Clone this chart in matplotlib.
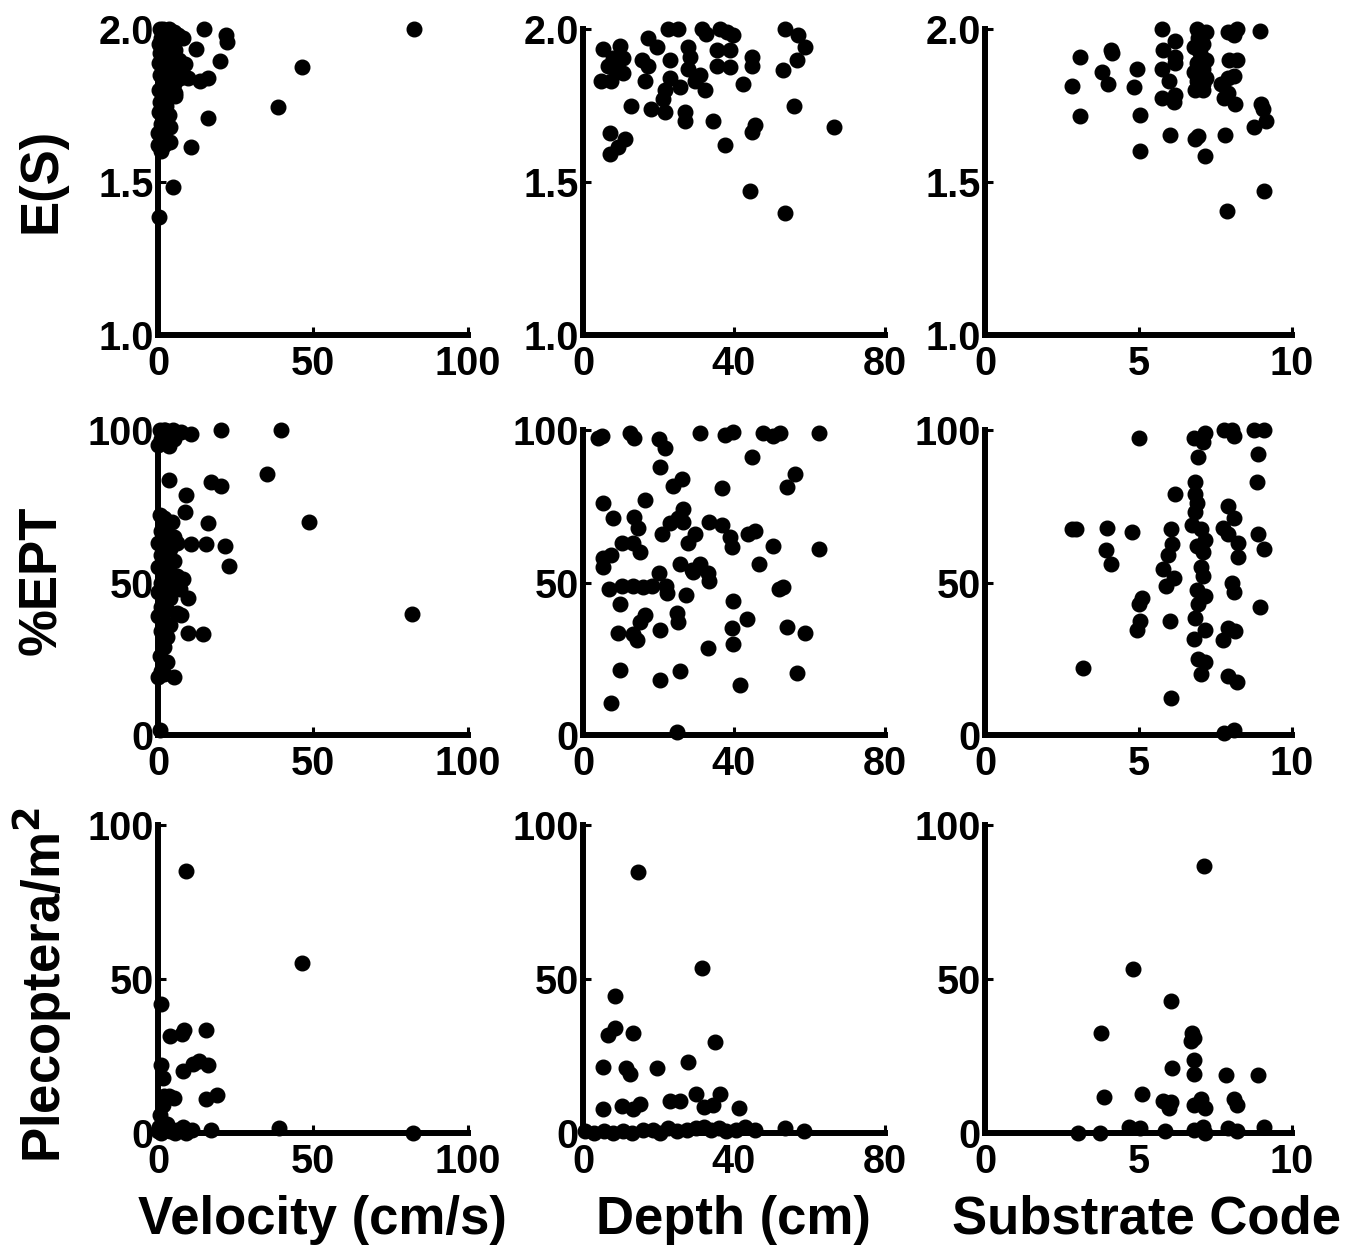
import matplotlib
matplotlib.use("Agg")
import matplotlib.pyplot as plt

plt.rcParams['font.family'] = ['Liberation Sans', 'DejaVu Sans']
plt.rcParams['font.weight'] = 'bold'

# ---- data ----
# Row 1: E(S)
vel_es_x = [82.7, 46.5, 38.7, 14.8, 21.8, 22.2, 20.0, 12.4, 8.6, 13.5, 9.7, 16.2, 16.0, 10.6,
            4.9, 0.2, 3.8, 3.8, 1.0, 0.0, 5.4,
            0.5, 1.5, 2.5, 3.5, 5.0, 6.5, 8.0, 1.0, 0.3, 2.0, 3.0, 4.5, 0.8, 2.2, 3.5, 5.5,
            0.2, 1.5, 3.0, 4.0, 6.0, 0.5, 2.0, 3.5, 5.0, 7.0, 0.3, 1.5, 3.0, 5.5, 0.8, 2.5,
            0.2, 1.8, 3.5, 1.0, 2.5, 0.5, 1.5, 0.0, 2.0, 6.8, 7.5]
vel_es_y = [2.00, 1.877, 1.745, 2.00, 1.98, 1.956, 1.897, 1.935, 1.886, 1.83, 1.84, 1.84, 1.71, 1.616,
            1.484, 1.384, 1.68, 1.63, 1.60, 1.66, 1.79,
            2.00, 2.00, 1.99, 2.00, 1.99, 1.98, 1.97, 1.97, 1.95, 1.94, 1.96, 1.95, 1.92, 1.91, 1.92, 1.93,
            1.89, 1.88, 1.88, 1.86, 1.87, 1.85, 1.84, 1.83, 1.82, 1.84, 1.80, 1.79, 1.78, 1.78, 1.76, 1.75,
            1.73, 1.72, 1.72, 1.69, 1.68, 1.66, 1.64, 1.62, 1.62, 1.90, 1.86]

dep_es_x = [5.3, 4.9, 7.5, 9.7, 8.0, 10.6, 10.6, 6.6, 8.8, 7.1, 11.0, 9.3, 7.1, 12.8,
            17.3, 19.5, 15.5, 17.3, 16.4, 18.1, 21.7, 21.2, 21.7, 23.0, 22.6, 25.2, 23.0,
            25.7, 27.9, 28.3, 27.9, 31.0, 29.6, 32.3, 27.0, 27.0, 31.4, 32.7, 34.5, 36.3,
            38.1, 39.8, 35.4, 35.4, 38.9, 38.9, 37.6, 42.5, 44.7, 44.7, 45.6, 44.7, 44.2,
            53.5, 57.0, 58.8, 56.6, 53.1, 55.8, 66.4, 53.5]
dep_es_y = [1.934, 1.83, 1.83, 1.945, 1.905, 1.905, 1.855, 1.88, 1.87, 1.66, 1.64, 1.615, 1.59, 1.75,
            1.97, 1.94, 1.90, 1.88, 1.83, 1.74, 1.73, 1.77, 1.80, 1.84, 2.00, 2.00, 1.90,
            1.81, 1.94, 1.91, 1.87, 1.85, 1.83, 1.80, 1.73, 1.70, 2.00, 1.985, 1.70, 2.00,
            1.99, 1.98, 1.93, 1.88, 1.93, 1.875, 1.62, 1.82, 1.91, 1.88, 1.685, 1.665, 1.472,
            2.00, 1.98, 1.94, 1.90, 1.865, 1.75, 1.68, 1.40]

sub_es_x = [2.83, 3.1, 3.1, 3.8, 4.0, 4.1, 4.15, 4.95, 4.84, 5.05, 5.05,
            5.76, 6.2, 5.8, 6.2, 5.75, 6.0, 6.2, 5.75, 6.15, 6.2, 6.03,
            6.9, 7.2, 6.95, 7.1, 6.8, 7.0, 7.2, 6.9, 7.1, 6.8, 7.0, 7.2, 6.9, 7.1, 7.0, 6.85, 7.1,
            6.85, 6.95, 7.17,
            7.9, 8.2, 8.1, 7.95, 8.2, 7.9, 8.1, 7.7, 7.9, 7.8, 8.15, 7.83, 7.88,
            8.97, 9.0, 9.05, 9.15, 8.75, 9.08]
sub_es_y = [1.814, 1.907, 1.716, 1.86, 1.82, 1.93, 1.92, 1.87, 1.81, 1.72, 1.60,
            2.00, 1.96, 1.93, 1.91, 1.87, 1.83, 1.89, 1.775, 1.76, 1.785, 1.652,
            2.00, 1.99, 1.97, 1.95, 1.94, 1.92, 1.90, 1.89, 1.87, 1.86, 1.85, 1.84, 1.83, 1.82, 1.81, 1.80, 1.80,
            1.64, 1.65, 1.585,
            1.99, 2.00, 1.98, 1.90, 1.90, 1.84, 1.845, 1.82, 1.79, 1.775, 1.755, 1.655, 1.405,
            1.995, 1.755, 1.74, 1.70, 1.68, 1.47]

# Row 2: %EPT
vel_ept_x = [39.6, 20.3, 10.7, 7.5, 4.8, 2.2, 0.0, 3.7, 35.3, 17.1, 20.3, 3.7, 9.1, 8.6, 48.7, 16.0,
             10.7, 15.5, 21.7, 22.8, 8.0, 9.6, 7.5, 81.8, 9.6, 14.4, 5.3, 0.5,
             0.5, 2.0, 3.5, 5.0, 1.0, 0.5, 2.0, 3.0, 4.5, 1.0, 3.0, 5.0, 0.0, 2.0, 4.0, 6.0, 1.0, 3.0,
             5.0, 0.0, 2.0, 4.0, 6.0, 1.0, 3.0, 5.0, 7.0, 0.0, 2.0, 4.0, 1.0, 3.0, 6.0, 0.0, 2.0,
             4.0, 1.0, 3.0, 2.0, 0.5, 3.0, 1.0, 2.0, 0.0]
vel_ept_y = [100, 100, 98.6, 99.5, 100, 100, 95, 94.6, 85.5, 83, 81.5, 83.5, 78.8, 73.2, 70, 69.6,
             62.5, 62.7, 62, 55.4, 51, 44.8, 39.3, 39.7, 33.5, 33.2, 19, 1.6,
             100, 100, 99, 97, 97, 72, 71, 69, 70, 67, 66, 65, 63, 62, 61, 63, 59, 58,
             57, 55, 54, 53, 52, 50, 49, 50, 48, 47, 46, 45, 42, 41, 40, 39, 37,
             36, 34, 32, 29, 26, 24, 21, 20, 19]

dep_ept_x = [4.0, 5.0, 12.4, 13.5, 20.0, 21.7, 31.0, 37.6, 39.8, 47.8, 50.4, 52.2, 62.4, 44.7,
             20.4, 23.9, 26.1, 36.7, 56.2, 54.0, 5.3, 16.4, 8.0, 13.5, 14.6, 20.8, 23.0, 25.2,
             26.5, 26.5, 29.6, 27.9, 33.5, 36.7, 38.9, 39.4, 43.8, 45.6, 50.4, 62.4, 46.5,
             5.3, 7.5, 5.3, 10.2, 13.3, 15.0, 25.7, 28.8, 31.0, 29.2, 33.2, 33.5, 20.0,
             10.2, 13.3, 16.0, 18.2, 7.0, 22.0, 22.3, 27.4, 39.8, 51.8, 53.1, 9.7, 16.4,
             15.0, 13.3, 14.2, 20.4, 24.8, 25.2, 9.3, 39.4, 39.8, 43.4, 54.0, 58.8, 33.2,
             9.7, 20.4, 25.7, 56.6, 41.6, 7.5, 24.8]
dep_ept_y = [97.3, 98.0, 99.0, 97.3, 97.0, 94.0, 99.0, 98.5, 99.5, 99.0, 98.0, 99.0, 99.0, 91.0,
             88.0, 81.5, 84.0, 81.0, 85.5, 81.4, 76.0, 77.0, 71.0, 71.5, 68.0, 66.0, 69.5, 71.0,
             74.0, 70.0, 66.0, 63.0, 70.0, 69.0, 65.0, 61.5, 66.0, 67.0, 62.0, 61.0, 56.0,
             58.0, 59.0, 55.0, 63.0, 63.0, 60.0, 56.0, 54.0, 56.0, 53.5, 53.0, 50.5, 53.0,
             49.0, 49.0, 48.5, 49.0, 48.0, 49.0, 46.5, 46.0, 44.0, 48.0, 48.5, 43.0, 39.5,
             37.0, 33.0, 31.0, 34.4, 40.0, 37.0, 33.3, 35.0, 30.0, 38.0, 35.5, 33.3, 28.4,
             21.3, 18.0, 21.0, 20.4, 16.4, 10.4, 1.0]

sub_ept_x = [5.03, 6.8, 7.15, 7.1, 6.95, 7.8, 8.05, 8.1, 8.75, 9.1, 8.9, 8.85, 6.2,
             6.85, 6.85, 6.9, 6.85, 6.75, 7.05, 7.15, 6.9, 7.1, 7.05, 7.1,
             7.9, 8.1, 7.75, 7.9, 8.25, 8.25, 8.9, 9.1, 2.84, 2.95, 3.99, 3.95, 4.1, 4.8,
             6.05, 6.1, 5.95, 5.8, 6.15, 5.9, 5.1, 5.0, 5.05, 4.95, 6.01,
             6.9, 7.15, 6.95, 6.85, 7.15, 6.8, 6.95, 7.15, 7.05,
             8.05, 8.1, 7.9, 8.15, 7.75, 8.96, 3.2, 7.9, 8.2, 6.07, 7.8, 8.1]
sub_ept_y = [97.5, 97.5, 99.0, 96.0, 91.0, 100, 100, 98.0, 100, 100, 92.0, 83.0, 79.0,
             83.0, 79.0, 76.0, 73.0, 69.0, 67.5, 64.0, 62.0, 60.0, 55.0, 52.0,
             75.0, 71.0, 68.0, 66.0, 63.0, 58.5, 66.0, 61.0, 67.6, 67.6, 68.0, 60.5, 56.0, 66.6,
             67.6, 62.5, 59.0, 54.5, 51.5, 49.0, 45.0, 43.0, 37.5, 34.5, 37.5,
             47.5, 45.5, 43.0, 38.5, 34.5, 31.5, 25.0, 24.0, 20.0,
             50.0, 47.0, 35.0, 34.0, 31.0, 42.0, 22.0, 19.5, 17.5, 12.1, 0.5, 1.5]

# Row 3: Plecoptera/m2
vel_ple_x = [8.9, 46.5, 1.1, 8.3, 7.8, 3.8, 15.5, 8.0, 11.2, 13.3, 16.0, 1.0, 1.5, 2.0, 3.7, 5.0,
             1.5, 0.5, 15.5, 19.0, 39.0, 82.4, 0.3, 1.0, 2.5, 4.0, 6.0, 8.0, 9.5, 9.0, 11.0,
             17.0, 0.0, 3.0, 5.5]
vel_ple_y = [85.2, 55.1, 42.0, 33.5, 32.0, 31.4, 33.5, 20.0, 22.5, 23.5, 22.0, 22.0, 18.0, 12.0,
             12.0, 11.5, 9.0, 6.0, 11.0, 12.3, 1.6, 0.0, 2.0, 0.0, 1.0, 0.5, 1.0, 2.0, 1.0, 0.0,
             1.0, 1.0, 0.5, 3.0, 0.0]

dep_ple_x = [14.6, 31.4, 8.4, 6.6, 8.4, 13.3, 35.0, 5.3, 11.5, 12.4, 19.5, 27.9, 5.3, 10.2, 13.3,
             15.0, 23.0, 25.7, 30.0, 32.0, 34.5, 36.3, 41.2,
             0.5, 3.0, 5.5, 8.0, 10.5, 13.0, 16.0, 18.5, 20.5, 22.5, 25.0, 27.5, 30.0, 32.0,
             34.0, 36.0, 38.0, 40.5, 43.0, 45.5, 53.5, 58.5]
dep_ple_y = [84.8, 53.6, 44.5, 31.9, 34.0, 32.4, 29.7, 21.4, 21.0, 19.2, 21.0, 23.0, 7.7, 8.8, 7.7,
             9.5, 10.4, 10.4, 12.6, 8.5, 9.0, 12.6, 8.2,
             0.5, 0.0, 0.5, 0.0, 0.5, 0.0, 1.0, 1.0, 0.0, 1.5, 0.5, 1.0, 1.5, 2.0,
             1.0, 1.5, 0.5, 1.0, 2.0, 1.0, 1.5, 0.5]

sub_ple_x = [7.12, 4.82, 6.05, 3.77, 6.75, 6.8, 6.7, 6.8, 6.09, 6.8, 7.86, 8.9, 3.86, 5.1,
             5.8, 6.05, 6.0, 6.8, 7.05, 7.15, 8.1, 8.2,
             3.04, 3.75, 4.7, 5.05, 5.87, 6.8, 7.1, 7.15, 7.9, 8.2, 9.1]
sub_ple_y = [86.8, 53.4, 43.0, 32.4, 32.5, 31.0, 30.0, 23.6, 21.2, 19.0, 18.7, 18.7, 11.8, 12.6,
             10.5, 10.0, 8.0, 9.0, 11.0, 8.0, 11.0, 9.0,
             0.0, 0.0, 2.0, 1.5, 0.5, 1.0, 2.0, 0.0, 1.5, 0.5, 2.0]

x_limits = [(0, 100, [0, 50, 100]), (0, 80, [0, 40, 80]), (0, 10, [0, 5, 10])]
y_limits = [(1.0, 2.0, [1.0, 1.5, 2.0], ['1.0', '1.5', '2.0']),
            (0, 100, [0, 50, 100], ['0', '50', '100']),
            (0, 100, [0, 50, 100], ['0', '50', '100'])]
panels = [[(vel_es_x, vel_es_y), (dep_es_x, dep_es_y), (sub_es_x, sub_es_y)],
          [(vel_ept_x, vel_ept_y), (dep_ept_x, dep_ept_y), (sub_ept_x, sub_ept_y)],
          [(vel_ple_x, vel_ple_y), (dep_ple_x, dep_ple_y), (sub_ple_x, sub_ple_y)]]
row_labels = ['E(S)', '%EPT', 'Plecoptera/m$^\\mathbf{2}$']
col_labels = ['Velocity (cm/s)', 'Depth (cm)', 'Substrate Code']

W, H = 1352, 1252
fig = plt.figure(figsize=(W / 100, H / 100), dpi=100)

# axes boxes in pixels: left, right / top, bottom
cols_px = [(158, 468), (583, 885), (985, 1292)]
rows_px = [(29, 335), (430, 735), (825, 1133)]

for r in range(3):
    for c in range(3):
        l, rr = cols_px[c]
        t, b = rows_px[r]
        ax = fig.add_axes([l / W, 1 - b / H, (rr - l) / W, (b - t) / H])
        xs, ys = panels[r][c]
        ax.plot(xs, ys, 'o', color='black', markersize=10.5, clip_on=False, zorder=3)
        x0, x1, xt = x_limits[c]
        y0, y1, yt, ytl = y_limits[r]
        ax.set_xlim(x0, x1)
        ax.set_ylim(y0, y1)
        ax.set_xticks(xt)
        ax.set_xticklabels([str(v) for v in xt])
        ax.set_yticks(yt)
        ax.set_yticklabels(ytl)
        for s in ['top', 'right']:
            ax.spines[s].set_visible(False)
        for s in ['left', 'bottom']:
            ax.spines[s].set_linewidth(4.3)
        ax.tick_params(direction='in', length=6, width=2.2, labelsize=28.5)
        ax.tick_params(axis='x', pad=7)
        ax.tick_params(axis='y', pad=3)
        for lab in ax.get_xticklabels() + ax.get_yticklabels():
            lab.set_fontweight('bold')

ylab_y = [180, 580, 985]
for txt, yy in zip(row_labels, ylab_y):
    fig.text(42 / W, 1 - yy / H, txt, rotation=90, ha='center', va='center',
             fontsize=38, fontweight='bold')

xlab_x = [322, 733, 1147]
for txt, xx in zip(col_labels, xlab_x):
    fig.text(xx / W, 1 - 1220 / H, txt, ha='center', va='center',
             fontsize=38, fontweight='bold')

fig.savefig('out.png', dpi=100)
